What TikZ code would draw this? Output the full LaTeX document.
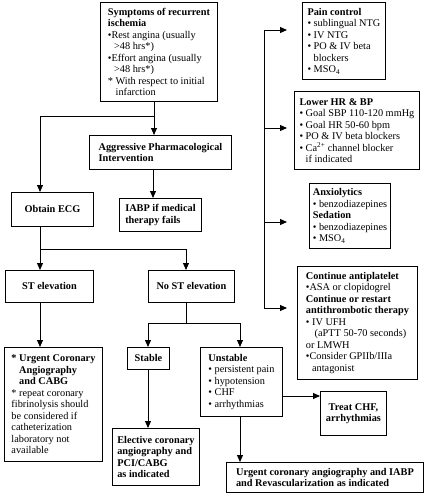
\documentclass[tikz,border=0pt]{standalone}
\usepackage{fontspec}
\setmainfont{Liberation Serif}
\usetikzlibrary{arrows.meta}
\newcommand{\bu}{\textbullet\ }
\newcommand{\bx}{\textbullet}
\newcommand{\ind}{\phantom{\textbullet\ }}
\newcommand{\B}[1]{\textbf{#1}}
\begin{document}
\begin{tikzpicture}[x=1pt,y=-1pt,
  box/.style={draw, line width=0.9pt, anchor=north west, align=left, inner sep=0pt,
    font=\fontsize{10.3}{11.5}\selectfont},
  arr/.style={line width=0.9pt, -{Triangle[length=7pt,width=6pt]}},
  ln/.style={line width=0.9pt}]
\useasboundingbox (0,0) rectangle (425,500);
% left column
\node[box, minimum width=117pt, minimum height=99pt] (sym) at (100,2)
  {\B{Symptoms of recurrent}\\ \B{ischemia}\\ \bx Rest angina (usually\\ \ind >48 hrs*)\\
   \bx Effort angina (usually\\ \ind >48 hrs*)\\ * With respect to initial\\ \phantom{* }infarction};
\node[box, minimum width=142pt, minimum height=34pt] (api) at (89,135)
  {\B{Aggressive Pharmacological}\\ \B{Intervention}};
\node[box, minimum width=82pt, minimum height=34pt] (ecg) at (11,192) {\B{Obtain ECG}};
\node[box, minimum width=82pt, minimum height=33pt] (iabp) at (119,198)
  {\B{IABP if medical}\\ \B{therapy fails}};
\node[box, minimum width=88pt, minimum height=32pt] (st) at (5,270) {\B{ST elevation}};
\node[box, minimum width=86pt, minimum height=32pt] (nost) at (148,270) {\B{No ST elevation}};
\node[box, minimum width=98pt, minimum height=114pt] (ucab) at (4,347)
  {\B{* Urgent Coronary}\\ \B{\phantom{* }Angiography}\\ \B{\phantom{* }and CABG}\\
   * repeat coronary\\ fibrinolysis should\\ be considered if\\ catheterization\\
   laboratory not\\ available};
\node[box, minimum width=42pt, minimum height=22pt] (stable) at (127,347) {\B{Stable}};
\node[box, minimum width=82pt, minimum height=69pt] (unst) at (200,347)
  {\B{Unstable}\\ \bu persistent pain\\ \bu hypotension\\ \bu CHF\\ \bu arrhythmias};
\node[box, minimum width=87pt, minimum height=57pt] (elec) at (112,428)
  {\B{Elective coronary}\\ \B{angiography and}\\ \B{PCI/CABG}\\ \B{as indicated}};
\node[box, minimum width=66pt, minimum height=44pt, align=center] (treat) at (320,391)
  {\B{Treat CHF,}\\ \B{arrhythmias}};
\node[box, minimum width=197pt, minimum height=30pt] (urg) at (226,462)
  {\B{Urgent coronary angiography and IABP}\\ \B{and Revascularization as indicated}};
% right column
\node[box, minimum width=83pt, minimum height=77pt] (pain) at (302,2)
  {\B{Pain control}\\ \bu sublingual NTG\\ \bu IV NTG\\ \bu PO \& IV beta\\ \ind blockers\\
   \bu MSO\textsubscript{4}};
\node[box, minimum width=125pt, minimum height=78pt] (hr) at (294,91)
  {\B{Lower HR \& BP}\\ \bu Goal SBP 110-120 mmHg\\ \bu Goal HR 50-60 bpm\\
   \bu PO \& IV beta blockers\\ \bu Ca\textsuperscript{2+} channel blocker\\ \ind if indicated};
\node[box, minimum width=81pt, minimum height=65pt] (anx) at (309,183)
  {\B{Anxiolytics}\\ \bu benzodiazepines\\ \B{Sedation}\\ \bu benzodiazepines\\
   \bu MSO\textsubscript{4}};
\node[box, minimum width=120pt, minimum height=113pt] (cont) at (297,266)
  {\B{Continue antiplatelet}\\ \bx ASA or clopidogrel\\ \B{Continue or restart}\\
   \B{antithrombotic therapy}\\ \bu IV UFH\\ \ind\ (aPTT 50-70 seconds)\\ or LMWH\\
   \bx Consider GPIIb/IIIa\\ \ind antagonist};
% junction coordinates
\coordinate (xa) at (154,116);
\coordinate (xb) at (153,0);
\coordinate (xe) at (40,249);
\coordinate (xn) at (186,323);
\coordinate (ys) at (148,323);
\coordinate (yu) at (240,323);
\coordinate (yt) at (0,396);
\coordinate (r1) at (264,30);
\coordinate (r4) at (264,308);
\coordinate (t1) at (287,30);
\coordinate (t2) at (287,128);
\coordinate (t3) at (287,222);
\coordinate (t4) at (287,308);
% connectors
\draw[arr] (sym.south -| xa) -- (api.north -| xa);
\draw[arr] (xa) -| (ecg.north -| xe);
\draw[arr] (api.south -| xb) -- (iabp.north -| xb);
\draw[arr] (ecg.south -| xe) -- (st.north -| xe);
\draw[arr] (xe) -| (nost.north -| xn);
\draw[arr] (st.south -| xe) -- (ucab.north -| xe);
\draw[ln] (nost.south -| xn) -- (xn);
\draw[arr] (xn) -| (stable.north -| ys);
\draw[arr] (xn) -| (unst.north -| yu);
\draw[arr] (stable.south -| ys) -- (elec.north -| ys);
\draw[arr] (unst.south -| yu) -- (urg.north -| yu);
\draw[arr] (unst.east |- yt) -- (treat.west |- yt);
\draw[ln] (r1) -- (r4);
\draw[arr] (r1) -- (t1);
\draw[arr] (r1 |- t2) -- (t2);
\draw[arr] (r1 |- t3) -- (t3);
\draw[arr] (r4) -- (t4);
\end{tikzpicture}
\end{document}
